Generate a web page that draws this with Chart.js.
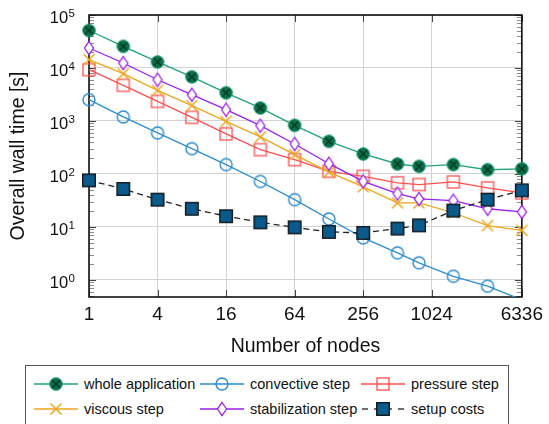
<!DOCTYPE html>
<html lang="en">
<head>
<meta charset="UTF-8">
<title>Overall wall time vs number of nodes</title>
<script src="https://cdn.jsdelivr.net/npm/chart.js"></script>
<style>
  html, body { margin: 0; padding: 0; background: #fff; overflow: hidden; }
  body { width: 549px; height: 424px; position: relative; font-family: "Liberation Sans", Arial, sans-serif; }
  #chart { position: absolute; left: 0; top: 0; }
  .legend { position: absolute; left: 25px; top: 365px; width: 484px; height: 80px; border: 1px solid #555; box-sizing: border-box; }
  .item { position: absolute; display: flex; align-items: center; font-size: 14.5px; color: #111; white-space: nowrap; height: 16px; }
  .item canvas { margin-right: 6px; }
</style>
</head>
<body>
<canvas id="chart" width="549" height="364"></canvas>
<div class="legend" id="legend"></div>
<script>
// number of nodes
const nodes = [1, 2, 4, 8, 16, 32, 64, 128, 256, 512, 792, 1584, 3168, 6336];
// wall times in seconds
const wholeApp     = [51000, 25600, 13000, 6800, 3400, 1760, 826, 412, 238, 154, 139, 150, 120, 125];
const convective   = [2520, 1190, 594, 300, 150, 72, 32.7, 14.1, 6.2, 3.24, 2.1, 1.17, 0.76, 0.42];
const pressure     = [9300, 4700, 2340, 1170, 569, 287, 186, 112, 90, 68, 63, 70.6, 54.5, 43.7];
const viscous      = [14400, 7800, 3780, 1950, 982, 499, 231, 108, 57, 28.4, 28.4, 18.5, 10.6, 8.6];
const stabilization= [23800, 12400, 6000, 3130, 1630, 815, 368, 156, 72.5, 42.5, 33.7, 31.3, 22, 19.2];
const setupCosts   = [75.7, 52, 32.7, 22, 15.9, 12.2, 9.8, 8.05, 7.7, 9.3, 10.7, 20.3, 32.7, 49];

const xTicks = [1, 4, 16, 64, 256, 1024, 6336];
const yTicks = [1, 10, 100, 1000, 10000, 100000];
const yMin = 0.475, yMax = 100000;

const FONT = '"Liberation Sans", Arial, sans-serif';

function drawMarker(ctx, kind, x, y) {
  ctx.save();
  ctx.setLineDash([]);
  if (kind === 'otimes') {
    ctx.beginPath(); ctx.arc(x, y, 6.3, 0, 2 * Math.PI);
    ctx.fillStyle = '#0b6e48'; ctx.fill();
    ctx.strokeStyle = '#1f9f74'; ctx.lineWidth = 1; ctx.stroke();
    ctx.beginPath();
    ctx.moveTo(x - 3.6, y - 3.6); ctx.lineTo(x + 3.6, y + 3.6);
    ctx.moveTo(x + 3.6, y - 3.6); ctx.lineTo(x - 3.6, y + 3.6);
    ctx.strokeStyle = '#05301f'; ctx.lineWidth = 1.3; ctx.stroke();
  } else if (kind === 'circle') {
    ctx.beginPath(); ctx.arc(x, y, 6, 0, 2 * Math.PI);
    ctx.strokeStyle = '#2b8dd0'; ctx.lineWidth = 1.4; ctx.stroke();
  } else if (kind === 'square') {
    ctx.strokeStyle = '#ff4f4f'; ctx.lineWidth = 1.3;
    ctx.strokeRect(x - 6, y - 6, 12, 12);
  } else if (kind === 'cross') {
    ctx.beginPath();
    ctx.moveTo(x - 5.5, y - 5.5); ctx.lineTo(x + 5.5, y + 5.5);
    ctx.moveTo(x + 5.5, y - 5.5); ctx.lineTo(x - 5.5, y + 5.5);
    ctx.strokeStyle = '#eea61c'; ctx.lineWidth = 1.5; ctx.stroke();
  } else if (kind === 'diamond') {
    ctx.beginPath();
    ctx.moveTo(x, y - 6.5); ctx.lineTo(x + 4.5, y); ctx.lineTo(x, y + 6.5); ctx.lineTo(x - 4.5, y); ctx.closePath();
    ctx.fillStyle = '#fff'; ctx.fill();
    ctx.strokeStyle = '#9a1ff0'; ctx.lineWidth = 1.3; ctx.stroke();
  } else if (kind === 'setup') {
    ctx.fillStyle = '#0b5a8c';
    ctx.fillRect(x - 6.3, y - 6.3, 12.6, 12.6);
    ctx.strokeStyle = '#111'; ctx.lineWidth = 1.3;
    ctx.strokeRect(x - 6.3, y - 6.3, 12.6, 12.6);
  }
  ctx.restore();
}

function markerImage(kind) {
  const c = document.createElement('canvas');
  c.width = 20; c.height = 20;
  drawMarker(c.getContext('2d'), kind, 10, 10);
  return c;
}

const series = [
  { label: 'whole application',  data: wholeApp,      color: '#22a37a', marker: 'otimes',  dash: [] },
  { label: 'convective step',    data: convective,    color: '#2b8dd0', marker: 'circle',  dash: [] },
  { label: 'pressure step',      data: pressure,      color: '#ff4f4f', marker: 'square',  dash: [] },
  { label: 'viscous step',       data: viscous,       color: '#eea61c', marker: 'cross',   dash: [] },
  { label: 'stabilization step', data: stabilization, color: '#9a1ff0', marker: 'diamond', dash: [] },
  { label: 'setup costs',        data: setupCosts,    color: '#222222', marker: 'setup',   dash: [6, 4] }
];

const datasets = series.map((s, i) => ({
  label: s.label,
  data: nodes.map((n, k) => ({ x: n, y: s.data[k] })),
  borderColor: s.color,
  borderWidth: 1.3,
  borderDash: s.dash,
  pointStyle: markerImage(s.marker),
  pointRadius: c => (c.raw && c.raw.y < yMin) ? 0 : 6,
  fill: false,
  tension: 0,
  order: series.length - i,
  clip: { left: 14, right: 14, top: 14, bottom: 0 }
}));

// frame, inside ticks and minor ticks like pgfplots
const framePlugin = {
  id: 'frame',
  beforeDatasetsDraw(chart) {
    const { ctx, chartArea: a, scales: { x, y } } = chart;
    ctx.save();
    ctx.lineWidth = 1;
    ctx.strokeStyle = '#8c8c8c';
    for (let e = -1; e <= 4; e++) {
      for (let m = 2; m <= 9; m++) {
        const v = m * Math.pow(10, e);
        if (v < yMin || v > yMax) continue;
        const py = Math.round(y.getPixelForValue(v)) + 0.5;
        ctx.beginPath();
        ctx.moveTo(a.left, py); ctx.lineTo(a.left + 5, py);
        ctx.moveTo(a.right, py); ctx.lineTo(a.right - 5, py);
        ctx.stroke();
      }
    }
    ctx.strokeStyle = '#444';
    yTicks.forEach(v => {
      const py = Math.round(y.getPixelForValue(v)) + 0.5;
      ctx.beginPath();
      ctx.moveTo(a.left, py); ctx.lineTo(a.left + 7, py);
      ctx.moveTo(a.right, py); ctx.lineTo(a.right - 7, py);
      ctx.stroke();
    });
    xTicks.forEach(v => {
      const px = Math.round(x.getPixelForValue(v)) + 0.5;
      ctx.beginPath();
      ctx.moveTo(px, a.bottom); ctx.lineTo(px, a.bottom - 7);
      ctx.moveTo(px, a.top); ctx.lineTo(px, a.top + 7);
      ctx.stroke();
    });
    ctx.strokeStyle = '#111';
    ctx.lineWidth = 1.6;
    ctx.strokeRect(a.left, a.top, a.right - a.left, a.bottom - a.top);
    ctx.restore();
  },
  // y tick labels as 10 with a raised exponent
  afterDraw(chart) {
    const { ctx, scales: { y } } = chart;
    ctx.save();
    ctx.fillStyle = '#111';
    ctx.textAlign = 'right';
    ctx.textBaseline = 'alphabetic';
    yTicks.forEach(v => {
      const py = y.getPixelForValue(v);
      const exp = String(Math.round(Math.log10(v)));
      ctx.font = '11.5px ' + FONT;
      const ew = ctx.measureText(exp).width;
      ctx.fillText(exp, 75, py + 2.4);
      ctx.font = '16.5px ' + FONT;
      ctx.fillText('10', 75 - ew - 0.5, py + 8.4);
    });
    ctx.restore();
  }
};

new Chart(document.getElementById('chart').getContext('2d'), {
  type: 'line',
  data: { datasets },
  options: {
    responsive: false,
    animation: false,
    layout: { padding: { top: 15, right: 24, left: 0, bottom: 0 } },
    plugins: { legend: { display: false }, tooltip: { enabled: false } },
    scales: {
      x: {
        type: 'logarithmic', min: 1, max: 6336,
        afterBuildTicks: s => { s.ticks = xTicks.map(v => ({ value: v })); },
        afterFit: s => { s.height = 67; },
        ticks: { color: '#111', font: { size: 19, family: FONT }, padding: 6, maxRotation: 0, autoSkip: false,
                 callback: v => String(v) },
        grid: { color: '#d2d2d2', lineWidth: 1, drawTicks: false },
        border: { display: false },
        title: { display: true, text: 'Number of nodes', color: '#111', font: { size: 19.5, family: FONT },
                 padding: { top: 0, bottom: 6 } }
      },
      y: {
        type: 'logarithmic', min: yMin, max: yMax,
        afterBuildTicks: s => { s.ticks = yTicks.map(v => ({ value: v })); },
        afterFit: s => { s.width = 89; },
        ticks: { display: false },
        grid: { color: '#d2d2d2', lineWidth: 1, drawTicks: false },
        border: { display: false },
        title: { display: true, text: 'Overall wall time [s]', color: '#111', font: { size: 19.5, family: FONT },
                 padding: { top: 7, bottom: 0 } }
      }
    }
  },
  plugins: [framePlugin]
});

// legend: three columns, two rows
const legendPos = [[8, 10], [174, 10], [335, 10], [8, 35], [174, 35], [335, 35]];
const legend = document.getElementById('legend');
series.forEach((s, i) => {
  const item = document.createElement('div');
  item.className = 'item';
  item.style.left = legendPos[i][0] + 'px';
  item.style.top = legendPos[i][1] + 'px';
  const c = document.createElement('canvas');
  c.width = 44; c.height = 16;
  const g = c.getContext('2d');
  g.strokeStyle = s.color; g.lineWidth = 1.3;
  g.setLineDash(s.dash.length ? [6, 6] : []);
  g.lineDashOffset = s.dash.length ? -1 : 0;
  g.beginPath(); g.moveTo(0, 8); g.lineTo(44, 8); g.stroke();
  drawMarker(g, s.marker, 22, 8);
  const t = document.createElement('span');
  t.textContent = s.label;
  item.appendChild(c); item.appendChild(t);
  legend.appendChild(item);
});
</script>
</body>
</html>
